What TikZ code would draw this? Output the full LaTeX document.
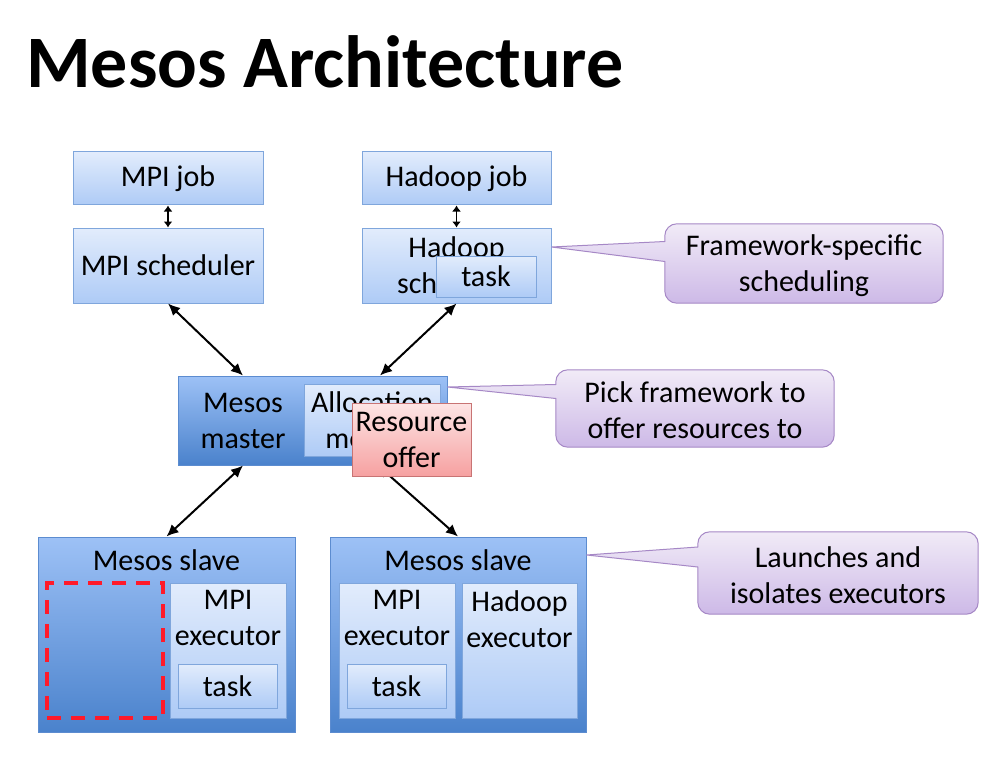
\documentclass[tikz,border=0pt]{standalone}
\usepackage{fontspec}
\setmainfont{Carlito}
\usetikzlibrary{positioning,arrows.meta}

\definecolor{boxtop}{HTML}{E2ECFC}
\definecolor{boxbot}{HTML}{AECBF6}
\definecolor{boxline}{HTML}{7FA6DC}
\definecolor{hosttop}{HTML}{9DC1F6}
\definecolor{hostbot}{HTML}{4A82CC}
\definecolor{hostline}{HTML}{5C8CD0}
\definecolor{notetop}{HTML}{F1EBF7}
\definecolor{notebot}{HTML}{CDB9E7}
\definecolor{noteline}{HTML}{A688C6}
\definecolor{offertop}{HTML}{FDE5E5}
\definecolor{offerbot}{HTML}{F6A1A1}
\definecolor{offerline}{HTML}{C87474}
\definecolor{gapred}{HTML}{FF1A2A}

\begin{document}
\begin{tikzpicture}[x=1pt,y=-1pt,
box/.style={
  draw=boxline,
  top color=boxtop,
  bottom color=boxbot,
  line width=1pt,
  inner sep=0pt,
  align=center
  },
host/.style={
  draw=hostline,
  top color=hosttop,
  bottom color=hostbot,
  line width=1pt,
  inner sep=0pt
  },
offer/.style={
  draw=offerline,
  top color=offertop,
  bottom color=offerbot,
  line width=1pt,
  inner sep=0pt,
  align=center
  },
gap/.style={
  draw=gapred,
  dash pattern=on 14pt off 10pt,
  line width=4pt,
  inner sep=0pt
  },
notebox/.style={
  inner sep=0pt
  },
note/.style={
  draw=noteline,
  top color=notetop,
  bottom color=notebot,
  line width=1pt
  },
link/.style={{Latex[length=12pt,width=11pt]}-{Latex[length=12pt,width=11pt]}, line width=2pt},
pair/.style={{Latex[length=6pt,width=9pt]}-{Latex[length=6pt,width=9pt]}, line width=1.6pt},
every node/.style={font=\fontsize{30}{36}\selectfont}
]
\fill[white] (0,0) rectangle (1006,770);
\useasboundingbox (0,0) rectangle (1006,770);

\node[anchor=base west, inner sep=0pt, font=\bfseries\fontsize{74}{80}\selectfont] (title) at (26,88) {Mesos Architecture};

% frameworks
\node[box, minimum width=190pt, minimum height=53pt] (mpijob) at (168,178.5) {MPI job};
\node[box, minimum width=190pt, minimum height=75pt] (mpisch) at (168,265.5) {MPI scheduler};
\node[box, minimum width=189pt, minimum height=53pt] (hjob) at (456.5,178.5) {Hadoop job};
\node[box, minimum width=189pt, minimum height=75pt] (hsch) at (456.5,265.5) {Hadoop\\scheduler};
\node[box, minimum width=100pt, minimum height=41pt] (htask) at (486,276.5) {task};

\draw[pair] (mpijob) -- (mpisch);
\draw[pair] (hjob) -- (hsch);

% slaves
\node[host, minimum width=257pt, minimum height=195pt] (slave1) at (166.5,634.5) {};
\node[below=13pt of slave1.north, inner sep=0pt] {Mesos slave};
\node[gap, minimum width=116pt, minimum height=135pt] (free) at (105,650.5) {};
\node[box, minimum width=116pt, minimum height=135pt] (mpiex1) at (228,650.5) {};
\node[below=8pt of mpiex1.north, inner sep=0pt, align=center] {MPI\\executor};
\node[box, minimum width=99pt, minimum height=44pt] (task1) at (227.5,686) {task};

\node[host, minimum width=256pt, minimum height=195pt] (slave2) at (458,634.5) {};
\node[below=13pt of slave2.north, inner sep=0pt] {Mesos slave};
\node[box, minimum width=116pt, minimum height=135pt] (mpiex2) at (397,650.5) {};
\node[below=8pt of mpiex2.north, inner sep=0pt, align=center] {MPI\\executor};
\node[box, minimum width=99pt, minimum height=44pt] (task2) at (396.5,686) {task};
\node[box, minimum width=115pt, minimum height=135pt] (hex) at (519.5,650.5) {};
\node[below=8pt of hex.north, inner sep=0pt, align=center] {Hadoop\\executor};

% master
\node[host, minimum width=269pt, minimum height=89pt] (master) at (312.5,420.5) {};
\node[align=center, inner sep=0pt] at ([xshift=-69.5pt]master.center) {Mesos\\master};
\node[box, minimum width=136pt, minimum height=72pt] (alloc) at (372,420) {Allocation\\module};

\draw[link] (mpisch.south) -- ([xshift=-69.5pt]master.north);
\draw[link] (hsch.south) -- ([xshift=67.5pt]master.north);
\draw[link] ([xshift=-69.5pt]master.south) -- (slave1.north);
\draw[link] ([xshift=65.5pt]master.south) -- (slave2.north);

\node[offer, minimum width=119pt, minimum height=73pt] (res) at (411.5,439.5) {Resource\\offer};

% callouts
\node[notebox, minimum width=278pt, minimum height=79pt] (n1) at (804,263.5) {};
\node[notebox, minimum width=278pt, minimum height=77pt] (n2) at (695,408.5) {};
\node[notebox, minimum width=280pt, minimum height=82pt] (n3) at (838,573) {};
\coordinate (p1) at ([yshift=18.5pt]hsch.east);
\coordinate (p2) at ([yshift=33.5pt]master.east);
\coordinate (p3) at ([yshift=79.5pt]slave2.east);

\foreach \n/\a/\b in {1/22/2, 2/24/10, 3/26/6}
  \draw[note] ([yshift=\b pt]n\n.west)
    [rounded corners=12pt] -- (n\n.south west) -- (n\n.south east)
    -- (n\n.north east) -- (n\n.north west) [sharp corners]
    -- ([yshift=\a pt]n\n.west) -- (p\n) -- cycle;

\node[align=center] at ([yshift=-2pt]n1.center) {Framework-specific\\scheduling};
\node[align=center] at ([yshift=-2pt]n2.center) {Pick framework to\\offer resources to};
\node[align=center] at ([yshift=-2pt]n3.center) {Launches and\\isolates executors};

\end{tikzpicture}
\end{document}
